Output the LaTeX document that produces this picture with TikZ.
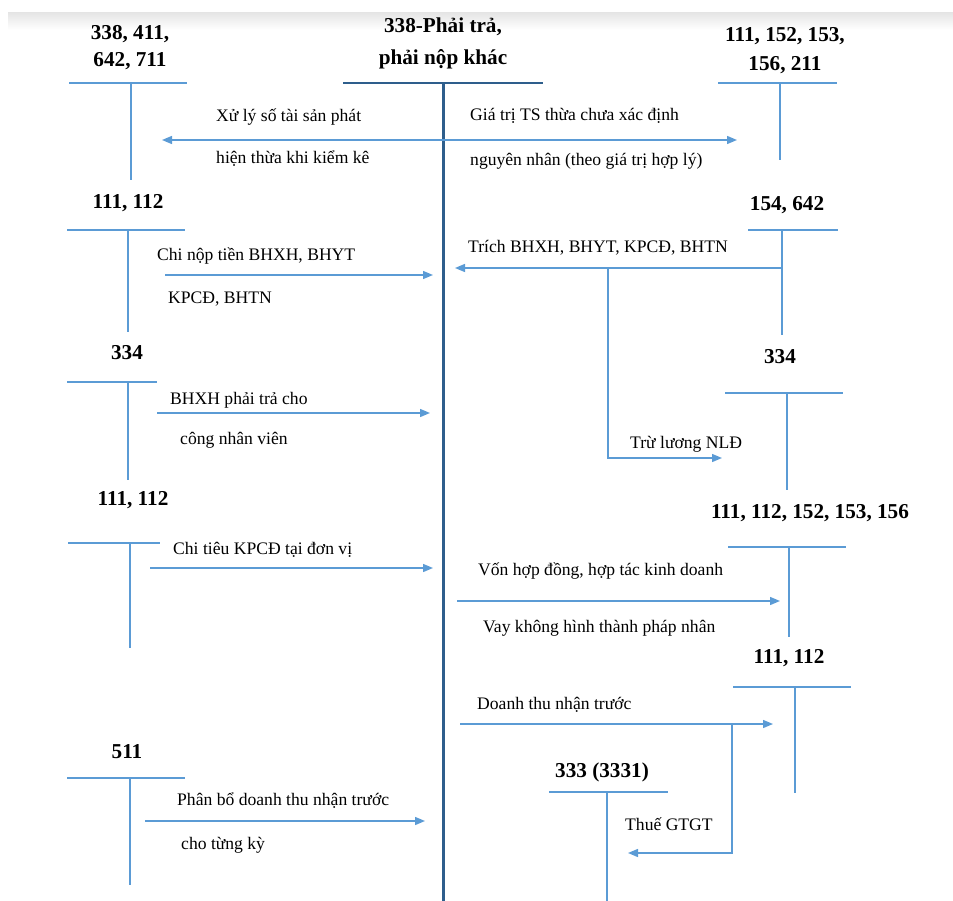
\documentclass[tikz,border=0pt]{standalone}
\usepackage{fontspec}
\setmainfont{Liberation Serif}
\usetikzlibrary{arrows.meta}
\definecolor{lb}{HTML}{5B9BD5}
\definecolor{db}{HTML}{2E5E8C}
\begin{document}
\begin{tikzpicture}[x=1pt,y=-1pt,
 acct/.style={font=\fontsize{21.2}{31}\selectfont\bfseries, align=center, inner sep=0},
 lbl/.style={font=\fontsize{17.6}{20}\selectfont, anchor=base west, inner sep=0},
 tline/.style={lb, line width=1.4pt},
 arr/.style={lb, line width=1.4pt, -{Triangle[length=10pt,width=8pt]}},
 darr/.style={lb, line width=1.4pt, {Triangle[length=10pt,width=8pt]}-{Triangle[length=10pt,width=8pt]}},
 mainline/.style={db, line width=3pt}]
\useasboundingbox (0,0) rectangle (953,901);
\fill[white] (0,0) rectangle (953,901);
\shade[top color=black!10, bottom color=white] (8,13) rectangle (953,30);

% central account
\node[acct, font=\fontsize{21.2}{31.5}\selectfont\bfseries] (ttl) at (443,43.5) {338-Phải trả,\\phải nộp khác};
\coordinate (mL) at (343,83); \coordinate (mR) at (543,83);
\coordinate (mT) at (443,83); \coordinate (mB) at (443,901);
\draw[db, line width=2.5pt] (mL) -- (mR);
\draw[mainline] (mT) -- (mB);

% A1
\node[acct, font=\fontsize{21.2}{27}\selectfont\bfseries] (a1) at (130,47.5) {338, 411,\\642, 711};
\coordinate (a1l) at (69,83); \coordinate (a1r) at (187,83);
\coordinate (a1t) at (131,83); \coordinate (a1b) at (131,180);
\draw[tline] (a1l) -- (a1r); \draw[tline] (a1t) -- (a1b);
% B1
\node[acct, font=\fontsize{21.2}{29}\selectfont\bfseries] (b1) at (785,50.5) {111, 152, 153,\\156, 211};
\coordinate (b1l) at (718,83); \coordinate (b1r) at (837,83);
\coordinate (b1t) at (780,83); \coordinate (b1b) at (780,160);
\draw[tline] (b1l) -- (b1r); \draw[tline] (b1t) -- (b1b);
\coordinate (e1a) at (162,140); \coordinate (e1b) at (737,140);
\draw[darr] (e1a) -- (e1b);
\node[lbl] (t1a) at (216,122) {Xử lý số tài sản phát};
\node[lbl] (t1b) at (216,164) {hiện thừa khi kiểm kê};
\node[lbl] (t1c) at (470,121) {Giá trị TS thừa chưa xác định};
\node[lbl] (t1d) at (470,166) {nguyên nhân (theo giá trị hợp lý)};

% A2
\node[acct] (a2) at (128,203) {111, 112};
\coordinate (a2l) at (67,230); \coordinate (a2r) at (185,230);
\coordinate (a2t) at (128,230); \coordinate (a2b) at (128,332);
\draw[tline] (a2l) -- (a2r); \draw[tline] (a2t) -- (a2b);
\coordinate (e2a) at (165,275); \coordinate (e2b) at (433,275);
\draw[arr] (e2a) -- (e2b);
\node[lbl] (t2a) at (157,261) {Chi nộp tiền BHXH, BHYT};
\node[lbl] (t2b) at (168,304) {KPCĐ, BHTN};

% A3
\node[acct] (a3) at (127,353) {334};
\coordinate (a3l) at (67,382); \coordinate (a3r) at (157,382);
\coordinate (a3t) at (128,382); \coordinate (a3b) at (128,480);
\draw[tline] (a3l) -- (a3r); \draw[tline] (a3t) -- (a3b);
\coordinate (e3a) at (157,413); \coordinate (e3b) at (430,413);
\draw[arr] (e3a) -- (e3b);
\node[lbl] (t3a) at (170,404) {BHXH phải trả cho};
\node[lbl] (t3b) at (180,444) {công nhân viên};

% B2
\node[acct] (b2) at (787,205) {154, 642};
\coordinate (b2l) at (748,230); \coordinate (b2r) at (838,230);
\coordinate (b2t) at (782,230); \coordinate (b2b) at (782,335);
\draw[tline] (b2l) -- (b2r); \draw[tline] (b2t) -- (b2b);
\coordinate (e4a) at (782,268); \coordinate (e4b) at (455,268);
\draw[arr] (e4a) -- (e4b);
\node[lbl] (t4) at (468,253) {Trích BHXH, BHYT, KPCĐ, BHTN};
\coordinate (e5a) at (608,268); \coordinate (e5b) at (722,458);
\draw[arr] (e5a) |- (e5b);
\node[lbl] (t5) at (630,448) {Trừ lương NLĐ};

% B3
\node[acct] (b3) at (780,357) {334};
\coordinate (b3l) at (725,393); \coordinate (b3r) at (843,393);
\coordinate (b3t) at (787,393); \coordinate (b3b) at (787,490);
\draw[tline] (b3l) -- (b3r); \draw[tline] (b3t) -- (b3b);

% A4
\node[acct] (a4) at (133,500) {111, 112};
\coordinate (a4l) at (68,543); \coordinate (a4r) at (160,543);
\coordinate (a4t) at (130,543); \coordinate (a4b) at (130,648);
\draw[tline] (a4l) -- (a4r); \draw[tline] (a4t) -- (a4b);
\coordinate (e6a) at (150,568); \coordinate (e6b) at (433,568);
\draw[arr] (e6a) -- (e6b);
\node[lbl] (t6) at (173,554) {Chi tiêu KPCĐ tại đơn vị};

% B4
\node[acct] (b4) at (810,513) {111, 112, 152, 153, 156};
\coordinate (b4l) at (728,547); \coordinate (b4r) at (846,547);
\coordinate (b4t) at (789,547); \coordinate (b4b) at (789,637);
\draw[tline] (b4l) -- (b4r); \draw[tline] (b4t) -- (b4b);
\coordinate (e7a) at (457,601); \coordinate (e7b) at (780,601);
\draw[arr] (e7a) -- (e7b);
\node[lbl] (t7a) at (478,575) {Vốn hợp đồng, hợp tác kinh doanh};
\node[lbl] (t7b) at (483,632) {Vay không hình thành pháp nhân};

% B5
\node[acct] (b5) at (789,658) {111, 112};
\coordinate (b5l) at (733,687); \coordinate (b5r) at (851,687);
\coordinate (b5t) at (795,687); \coordinate (b5b) at (795,793);
\draw[tline] (b5l) -- (b5r); \draw[tline] (b5t) -- (b5b);
\coordinate (e8a) at (460,724); \coordinate (e8b) at (773,724);
\draw[arr] (e8a) -- (e8b);
\node[lbl] (t8) at (477,709) {Doanh thu nhận trước};
\coordinate (e9a) at (732,724); \coordinate (e9b) at (628,853);
\draw[arr] (e9a) |- (e9b);
\node[lbl] (t9) at (625,830) {Thuế GTGT};

% C
\node[acct] (c1) at (602,772) {333 (3331)};
\coordinate (c1l) at (549,792); \coordinate (c1r) at (668,792);
\coordinate (c1t) at (607,792); \coordinate (c1b) at (607,901);
\draw[tline] (c1l) -- (c1r); \draw[tline] (c1t) -- (c1b);

% A5
\node[acct] (a5) at (127,752) {511};
\coordinate (a5l) at (67,778); \coordinate (a5r) at (185,778);
\coordinate (a5t) at (130,778); \coordinate (a5b) at (130,885);
\draw[tline] (a5l) -- (a5r); \draw[tline] (a5t) -- (a5b);
\coordinate (e10a) at (145,821); \coordinate (e10b) at (425,821);
\draw[arr] (e10a) -- (e10b);
\node[lbl] (t10a) at (177,805) {Phân bổ doanh thu nhận trước};
\node[lbl] (t10b) at (181,849) {cho từng kỳ};
\end{tikzpicture}
\end{document}
